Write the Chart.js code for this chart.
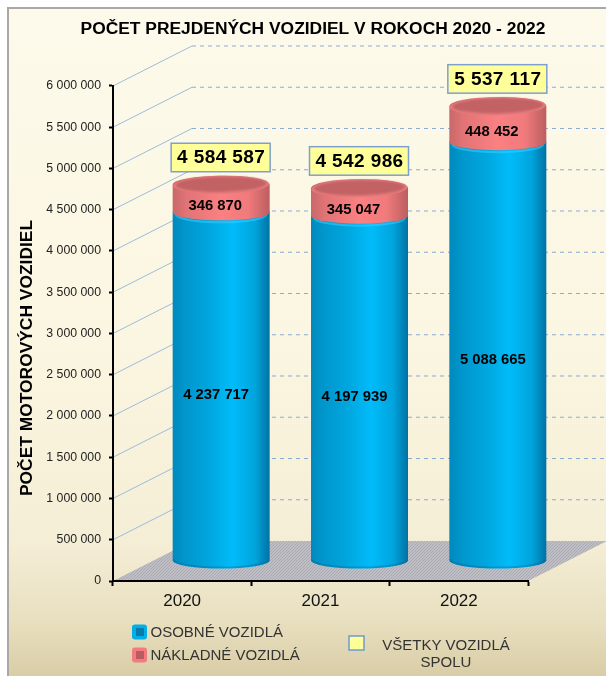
<!DOCTYPE html>
<html>
<head>
<meta charset="utf-8">
<style>
html, body { margin: 0; padding: 0; background: #fff; }
#wrap { width: 606px; height: 676px; }
</style>
<script src="https://cdn.jsdelivr.net/npm/chart.js@4"></script>
</head>
<body>
<div id="wrap"><canvas id="chart" width="606" height="676"></canvas></div>
<script>
const years = ["2020", "2021", "2022"];
const osobne = [4237717, 4197939, 5088665];
const nakladne = [346870, 345047, 448452];
const spolu = [4584587, 4542986, 5537117];
const yTicks = [0, 500000, 1000000, 1500000, 2000000, 2500000, 3000000, 3500000, 4000000, 4500000, 5000000, 5500000, 6000000];
const titleText = "POČET PREJDENÝCH VOZIDIEL V ROKOCH 2020 - 2022";
const yTitle = "POČET MOTOROVÝCH VOZIDIEL";
const seriesNames = ["OSOBNÉ VOZIDLÁ", "NÁKLADNÉ VOZIDLÁ"];
const totalName = ["VŠETKY VOZIDLÁ", "SPOLU"];

const FONT = '"Liberation Sans", Arial, sans-serif';
const depthX = 79, depthY = 40;   // back wall offset of the fake 3d box
const RY = 8;

function fmt(v) {
    return String(v).replace(/\B(?=(\d{3})+(?!\d))/g, " ");
}

function hatch(ctx) {
    const c = document.createElement("canvas");
    c.width = 3; c.height = 3;
    const p = c.getContext("2d");
    p.fillStyle = "#bebec4";
    p.fillRect(0, 0, 3, 3);
    p.strokeStyle = "#aaaab2";
    p.lineWidth = 1;
    p.beginPath();
    p.moveTo(0, 3); p.lineTo(3, 0);
    p.stroke();
    return ctx.createPattern(c, "repeat");
}

function bodyGradient(ctx, cx, w, stops) {
    const g = ctx.createLinearGradient(cx - w / 2, 0, cx + w / 2, 0);
    stops.forEach(s => g.addColorStop(s[0], s[1]));
    return g;
}

function cylinderPath(ctx, cx, top, bottom, w, ry) {
    ctx.beginPath();
    ctx.moveTo(cx - w / 2, top);
    ctx.lineTo(cx - w / 2, bottom);
    ctx.ellipse(cx, bottom, w / 2, RY, 0, Math.PI, 0, true);
    ctx.lineTo(cx + w / 2, top);
    ctx.ellipse(cx, top, w / 2, ry, 0, 0, Math.PI, true);
    ctx.closePath();
}

const blueStops = [[0, "#0089bc"], [0.12, "#0096cc"], [0.4, "#00a8e0"], [0.62, "#00bcfa"], [0.85, "#00a4dc"], [1, "#0072a4"]];
const redStops = [[0, "#c8686a"], [0.15, "#e27476"], [0.5, "#fb8082"], [0.78, "#f07a7c"], [1, "#bc5e60"]];

const box3d = {
    id: "box3d",
    beforeDraw(chart) {
        const { ctx, scales: { y }, chartArea: a } = chart;
        ctx.save();
        // panel background and frame
        const g = ctx.createLinearGradient(0, 9, 0, 676);
        g.addColorStop(0, "#fdfaeb");
        g.addColorStop(0.5, "#fbf6e1");
        g.addColorStop(0.8, "#f5eed6");
        g.addColorStop(0.92, "#e8dfbf");
        g.addColorStop(1, "#d9cda6");
        ctx.fillStyle = "#ffffff";
        ctx.fillRect(0, 0, 606, 676);
        ctx.fillStyle = g;
        ctx.fillRect(8, 8, 598, 668);
        ctx.fillStyle = "#a8a8a8";
        ctx.fillRect(7, 7, 599, 2);
        ctx.fillRect(7, 7, 2, 669);

        // side wall and back wall gridlines
        yTicks.forEach(t => {
            if (t === 0) return;
            const py = y.getPixelForValue(t);
            ctx.strokeStyle = "#9dbcdc";
            ctx.lineWidth = 1;
            ctx.setLineDash([]);
            ctx.beginPath();
            ctx.moveTo(a.left, py);
            ctx.lineTo(a.left + depthX, py - depthY);
            ctx.stroke();
            ctx.strokeStyle = "#88acd8";
            ctx.setLineDash([4, 4]);
            ctx.beginPath();
            ctx.moveTo(a.left + depthX, py - depthY);
            ctx.lineTo(606, py - depthY);
            ctx.stroke();
        });
        ctx.setLineDash([]);

        // floor
        ctx.fillStyle = hatch(ctx);
        ctx.beginPath();
        ctx.moveTo(a.left, a.bottom);
        ctx.lineTo(a.right, a.bottom);
        ctx.lineTo(a.right + depthX, a.bottom - depthY);
        ctx.lineTo(a.left + depthX, a.bottom - depthY);
        ctx.closePath();
        ctx.fill();
        ctx.restore();
    },
    afterDatasetsDraw(chart) {
        const { ctx, scales: { y } } = chart;
        const lower = chart.getDatasetMeta(0).data;
        const upper = chart.getDatasetMeta(1).data;
        const totals = chart.getDatasetMeta(2).data;
        ctx.save();

        // y axis title, sits lower than the axis centre
        ctx.save();
        ctx.translate(27, 358);
        ctx.rotate(-Math.PI / 2);
        ctx.fillStyle = "#000";
        ctx.font = "bold 17.4px " + FONT;
        ctx.textAlign = "center";
        ctx.textBaseline = "middle";
        ctx.fillText(yTitle, 0, 0);
        ctx.restore();

        years.forEach((yr, i) => {
            const w = lower[i].width;
            const cx = lower[i].x + depthX / 2 - 0.5;
            const base = lower[i].base - depthY / 2;
            const mid = lower[i].y - depthY / 2 + 1;
            const top = upper[i].y - depthY / 2 + 2;

            // blue body
            ctx.save();
            cylinderPath(ctx, cx, mid, base, w, RY);
            ctx.fillStyle = bodyGradient(ctx, cx, w, blueStops);
            ctx.fill();
            ctx.clip();
            // darker rim on the bottom edge
            ctx.strokeStyle = "rgba(0,100,150,0.35)";
            ctx.lineWidth = 2;
            ctx.beginPath();
            ctx.ellipse(cx, base - 1, w / 2 - 1, RY, 0, Math.PI, 0, true);
            ctx.stroke();
            // light band under the red part
            ctx.strokeStyle = "rgba(60,205,255,0.55)";
            ctx.lineWidth = 2;
            ctx.beginPath();
            ctx.ellipse(cx, mid + 2, w / 2 - 3, RY, 0, Math.PI, 0, true);
            ctx.stroke();
            ctx.restore();

            // red body
            cylinderPath(ctx, cx, top, mid, w, 9);
            ctx.fillStyle = bodyGradient(ctx, cx, w, redStops);
            ctx.fill();

            // red top face, soft edge like a bevel
            ctx.fillStyle = "#e87c7e";
            ctx.beginPath();
            ctx.ellipse(cx, top, w / 2 - 0.5, 9, -0.02, 0, Math.PI * 2);
            ctx.fill();
            ctx.save();
            ctx.filter = "blur(1px)";
            ctx.fillStyle = "#c26264";
            ctx.beginPath();
            ctx.ellipse(cx, top - 0.5, w / 2 - 3, 7.5, -0.02, 0, Math.PI * 2);
            ctx.fill();
            ctx.restore();

            // value labels
            ctx.fillStyle = "#000";
            ctx.font = "bold 14.8px " + FONT;
            ctx.textAlign = "center";
            ctx.textBaseline = "middle";
            ctx.fillText(fmt(osobne[i]), cx - 5, y.getPixelForValue(osobne[i] / 2) - depthY / 2 + 9);
            ctx.fillText(fmt(nakladne[i]), cx - 6, y.getPixelForValue(osobne[i] + nakladne[i] / 2) - depthY / 2 + 9);

            // total callout
            const bx = cx - 50, by = totals[i].y - 59.5;
            ctx.fillStyle = "#ffff99";
            ctx.fillRect(bx, by, 99, 28.5);
            ctx.strokeStyle = "#7f9fcf";
            ctx.lineWidth = 1.5;
            ctx.strokeRect(bx, by, 99, 28.5);
            ctx.fillStyle = "#000";
            ctx.font = "bold 19px " + FONT;
            ctx.letterSpacing = "0.4px";
            ctx.fillText(fmt(spolu[i]), cx, by + 15);
            ctx.letterSpacing = "0px";
        });

        // legend
        ctx.textAlign = "left";
        ctx.textBaseline = "middle";
        ctx.font = "15px " + FONT;
        const swatches = [["#00aee8", "#0a7aa8"], ["#f47a80", "#b85c60"]];
        seriesNames.forEach((name, i) => {
            const ly = 632 + i * 23;
            ctx.fillStyle = swatches[i][0];
            ctx.beginPath();
            ctx.roundRect(132, ly - 7.5, 15, 15, 3);
            ctx.fill();
            ctx.fillStyle = swatches[i][1];
            ctx.fillRect(136, ly - 4, 8, 8);
            ctx.fillStyle = "#333";
            ctx.fillText(name, 150.5, ly + 0.5);
        });
        ctx.fillStyle = "#ffff99";
        ctx.fillRect(349, 636, 15, 14);
        ctx.strokeStyle = "#6f9bd1";
        ctx.lineWidth = 1.5;
        ctx.strokeRect(349, 636, 15, 14);
        ctx.fillStyle = "#333";
        ctx.textAlign = "center";
        totalName.forEach((line, i) => ctx.fillText(line, 446, 646 + i * 17));
        ctx.restore();
    }
};

new Chart(document.getElementById("chart"), {
    type: "bar",
    data: {
        labels: years,
        datasets: [
            { label: seriesNames[0], data: osobne, backgroundColor: "transparent", barThickness: 97, stack: "a" },
            { label: seriesNames[1], data: nakladne, backgroundColor: "transparent", barThickness: 97, stack: "a" },
            { label: totalName.join(" "), type: "line", data: spolu, showLine: false, pointRadius: 0, stack: "b" }
        ]
    },
    options: {
        responsive: false,
        animation: false,
        layout: { padding: { left: 20, right: 0, top: 0, bottom: 0 } },
        plugins: {
            legend: { display: false },
            tooltip: { enabled: false },
            title: {
                display: true,
                text: titleText,
                color: "#000",
                font: { family: FONT, size: 17.4, weight: "bold" },
                padding: { top: 19, bottom: 46.1 }
            }
        },
        scales: {
            x: {
                stacked: true,
                offset: true,
                afterFit(s) { s.height = 95; },
                border: { color: "#000", width: 2 },
                grid: { drawOnChartArea: false, offset: true, color: "#000", tickColor: "#000", tickWidth: 2, tickLength: 5 },
                ticks: { color: "#111", padding: 5, font: { family: FONT, size: 17 } }
            },
            y: {
                stacked: true,
                min: 0,
                max: 6000000,
                afterFit(s) { s.width = 93; },
                afterBuildTicks(s) { s.ticks = yTicks.map(v => ({ value: v })); },
                border: { color: "#000", width: 2 },
                grid: { drawOnChartArea: false, color: "#000", tickColor: "#000", tickWidth: 2, tickLength: 4 },
                ticks: { color: "#222", padding: 8, font: { family: FONT, size: 12.3 }, callback: v => fmt(v) }
            },
            // empty axis, only reserves the room of the back wall on the right
            spacer: {
                type: "linear",
                position: "right",
                afterFit(s) { s.width = 78; },
                border: { display: false },
                grid: { display: false },
                ticks: { display: false }
            }
        }
    },
    plugins: [box3d]
});
</script>
</body>
</html>
